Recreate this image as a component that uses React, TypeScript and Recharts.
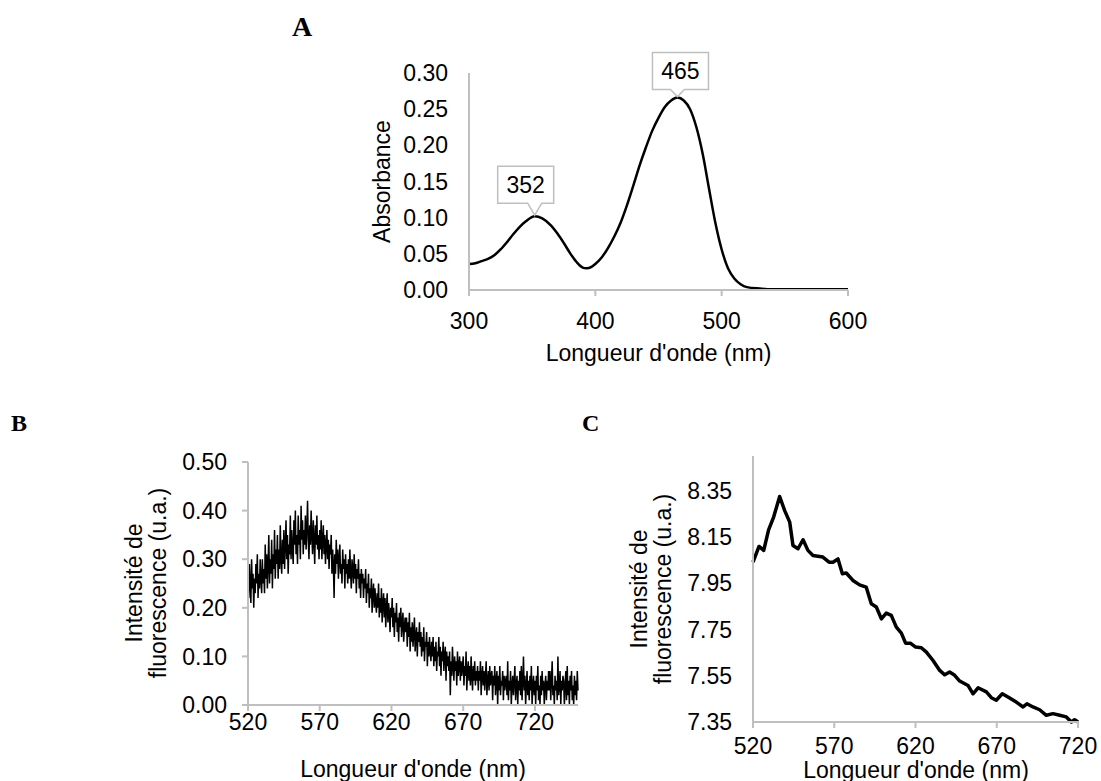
import { LineChart, Line, XAxis, YAxis, ReferenceDot } from 'recharts';

const FONT = "'Liberation Sans', Arial, sans-serif";
const SERIF = "'Liberation Serif', 'Times New Roman', serif";
const GREY = '#bfbfbf';

// A - absorbance spectrum
const absNm = [300, 305, 310, 315, 320, 325, 330, 335, 340, 345, 352, 358, 365, 370, 375, 380, 385, 390, 393, 397, 400, 405, 410, 415, 420, 425, 430, 435, 440, 445, 450, 455, 460, 465, 470, 475, 480, 485, 490, 495, 500, 505, 510, 515, 520, 530, 540, 560, 580, 600];
const absValues = [0.036, 0.037, 0.040, 0.043, 0.048, 0.056, 0.066, 0.077, 0.087, 0.095, 0.102, 0.099, 0.089, 0.078, 0.065, 0.051, 0.039, 0.031, 0.030, 0.032, 0.036, 0.045, 0.058, 0.074, 0.093, 0.117, 0.144, 0.172, 0.197, 0.220, 0.238, 0.253, 0.262, 0.266, 0.262, 0.250, 0.225, 0.188, 0.140, 0.093, 0.056, 0.030, 0.016, 0.008, 0.004, 0.002, 0.001, 0.001, 0.001, 0.001];
const absXTicks = [300, 400, 500, 600];
const absYTicks = [0, 0.05, 0.1, 0.15, 0.2, 0.25, 0.3];
const peakNm = [352, 465];
const peakText = ['352', '465'];

// B - raw fluorescence, one reading every 0.5 nm from 520 nm
const rawStartNm = 520;
const rawStepNm = 0.5;
const rawValues = [
  0.27, 0.22, 0.29, 0.25, 0.21, 0.30, 0.24, 0.27, 0.20, 0.26, 0.23, 0.29, 0.25, 0.31, 0.22, 0.27, 0.24, 0.30, 0.26, 0.23,
  0.30, 0.25, 0.28, 0.23, 0.33, 0.26, 0.31, 0.24, 0.29, 0.35, 0.25, 0.30, 0.27, 0.34, 0.24, 0.31, 0.28, 0.36, 0.26, 0.32,
  0.29, 0.35, 0.26, 0.32, 0.28, 0.37, 0.30, 0.27, 0.34, 0.29, 0.36, 0.28, 0.33, 0.38, 0.30, 0.35, 0.27, 0.33, 0.31, 0.39,
  0.30, 0.36, 0.32, 0.29, 0.38, 0.33, 0.40, 0.31, 0.35, 0.29, 0.39, 0.33, 0.36, 0.30, 0.41, 0.34, 0.38, 0.31, 0.36, 0.33,
  0.39, 0.32, 0.36, 0.42, 0.34, 0.30, 0.37, 0.33, 0.40, 0.35, 0.31, 0.38, 0.34, 0.29, 0.37, 0.33, 0.39, 0.32, 0.35, 0.30,
  0.36, 0.32, 0.38, 0.30, 0.34, 0.37, 0.31, 0.35, 0.29, 0.33, 0.36, 0.30, 0.34, 0.28, 0.33, 0.31, 0.35, 0.27, 0.32, 0.29,
  0.22, 0.31, 0.27, 0.34, 0.29, 0.32, 0.26, 0.30, 0.33, 0.27, 0.29, 0.25, 0.32, 0.28, 0.30, 0.24, 0.31, 0.27, 0.29, 0.25,
  0.30, 0.26, 0.32, 0.27, 0.24, 0.30, 0.28, 0.25, 0.31, 0.26, 0.29, 0.23, 0.28, 0.26, 0.30, 0.24, 0.27, 0.22, 0.28, 0.25,
  0.27, 0.22, 0.26, 0.24, 0.28, 0.21, 0.25, 0.23, 0.27, 0.20, 0.24, 0.22, 0.26, 0.19, 0.23, 0.25, 0.20, 0.24, 0.21, 0.19,
  0.23, 0.20, 0.25, 0.18, 0.22, 0.19, 0.24, 0.17, 0.21, 0.23, 0.18, 0.22, 0.16, 0.20, 0.23, 0.17, 0.21, 0.19, 0.15, 0.20,
  0.18, 0.22, 0.16, 0.20, 0.14, 0.19, 0.17, 0.21, 0.15, 0.18, 0.13, 0.19, 0.16, 0.20, 0.14, 0.17, 0.19, 0.13, 0.16, 0.18,
  0.15, 0.18, 0.12, 0.17, 0.14, 0.19, 0.11, 0.16, 0.13, 0.17, 0.12, 0.15, 0.18, 0.11, 0.14, 0.16, 0.10, 0.15, 0.13, 0.17,
  0.12, 0.15, 0.10, 0.14, 0.11, 0.16, 0.09, 0.13, 0.12, 0.15, 0.08, 0.13, 0.10, 0.14, 0.11, 0.09, 0.13, 0.10, 0.14, 0.08,
  0.12, 0.09, 0.13, 0.07, 0.11, 0.10, 0.14, 0.08, 0.12, 0.06, 0.11, 0.09, 0.13, 0.07, 0.10, 0.12, 0.05, 0.11, 0.08, 0.10,
  0.07, 0.11, 0.02, 0.09, 0.06, 0.12, 0.08, 0.05, 0.10, 0.07, 0.09, 0.04, 0.11, 0.06, 0.08, 0.10, 0.05, 0.09, 0.06, 0.08,
  0.10, 0.04, 0.08, 0.06, 0.11, 0.03, 0.07, 0.09, 0.05, 0.08, 0.04, 0.10, 0.06, 0.03, 0.08, 0.05, 0.09, 0.04, 0.07, 0.05,
  0.08, 0.03, 0.07, 0.05, 0.09, 0.02, 0.06, 0.08, 0.04, 0.07, 0.03, 0.06, 0.09, 0.02, 0.05, 0.07, 0.03, 0.08, 0.04, 0.06,
  0.07, 0.01, 0.06, 0.04, 0.08, 0.02, 0.05, 0.07, 0.00, 0.06, 0.03, 0.08, 0.02, 0.05, 0.04, 0.07, 0.01, 0.06, 0.03, 0.05,
  0.06, 0.02, 0.09, 0.01, 0.05, 0.03, 0.07, 0.00, 0.04, 0.06, 0.02, 0.05, 0.08, 0.01, 0.04, 0.06, 0.00, 0.05, 0.03, 0.07,
  0.02, 0.08, 0.01, 0.05, 0.10, 0.03, 0.06, 0.00, 0.04, 0.07, 0.02, 0.05, 0.01, 0.06, 0.03, 0.08, 0.00, 0.04, 0.06, 0.02,
  0.05, 0.00, 0.06, 0.03, 0.08, 0.01, 0.04, 0.00, 0.06, 0.02, 0.07, 0.03, 0.05, 0.00, 0.04, 0.06, 0.01, 0.05, 0.03, 0.07,
  0.03, 0.07, 0.01, 0.05, 0.09, 0.02, 0.04, 0.00, 0.06, 0.03, 0.05, 0.01, 0.10, 0.02, 0.04, 0.07, 0.00, 0.05, 0.03, 0.06,
  0.05, 0.00, 0.04, 0.07, 0.01, 0.08, 0.02, 0.05, 0.00, 0.06, 0.03, 0.07, 0.01, 0.04, 0.00, 0.06, 0.02, 0.05, 0.01, 0.07,
  0.03,
];
const rawXTicks = [520, 570, 620, 670, 720];
const rawYTicks = [0, 0.1, 0.2, 0.3, 0.4, 0.5];

// C - smoothed fluorescence
const smoothNm = [520, 523.7, 526.6, 529.6, 532.7, 536.4, 539.5, 542.6, 544.6, 547.7, 550.8, 553.8, 556.9, 563, 566.8, 569.2, 572.3, 575, 577.4, 581.5, 585.6, 589.7, 592.8, 595.9, 599, 602, 605.1, 608.2, 611.3, 613.9, 616.8, 620.1, 623.6, 626.7, 630.8, 634.9, 638, 641, 644.1, 647.2, 652.3, 655.4, 658.5, 663.6, 666.7, 669.7, 673.4, 676.9, 682, 686.2, 688.6, 692.3, 696.4, 700.5, 704.6, 708.7, 712.8, 715.9, 717.9, 720];
const smoothValues = [8.041, 8.109, 8.092, 8.181, 8.236, 8.325, 8.264, 8.214, 8.113, 8.099, 8.138, 8.092, 8.070, 8.063, 8.041, 8.041, 8.055, 7.991, 7.994, 7.962, 7.943, 7.933, 7.861, 7.847, 7.796, 7.821, 7.811, 7.760, 7.734, 7.691, 7.691, 7.674, 7.671, 7.652, 7.616, 7.573, 7.554, 7.566, 7.552, 7.527, 7.508, 7.472, 7.498, 7.480, 7.455, 7.444, 7.472, 7.458, 7.436, 7.415, 7.429, 7.415, 7.403, 7.379, 7.386, 7.379, 7.372, 7.350, 7.360, 7.350];
const smoothXTicks = [520, 570, 620, 670, 720];
const smoothYTicks = [7.35, 7.55, 7.75, 7.95, 8.15, 8.35];

const absData = absNm.map((x, i) => ({ x, y: absValues[i] }));
const rawData = rawValues.map((y, i) => ({ x: rawStartNm + i * rawStepNm, y }));
const smoothData = smoothNm.map((x, i) => ({ x, y: smoothValues[i] }));

const tickStyle = { fontSize: 23, fill: '#000', fontFamily: FONT };
const axisStyle = { stroke: GREY, strokeWidth: 2 };
const fmt2 = (v: number) => v.toFixed(2);

// callout box position relative to its peak: [shift x, gap above]
const calloutOffset = [[-9, 13], [3, 8]];

function Callout({ cx, cy, text, shift, gap }: any) {
  const w = 56;
  const h = 37;
  const bx = cx + shift - w / 2;
  const by = cy - gap - h;
  const d = `M${bx},${by} H${bx + w} V${by + h} H${cx + 7} L${cx},${cy - 1} L${cx - 7},${by + h} H${bx} Z`;
  return (
    <g>
      <path d={d} fill="#fff" stroke={GREY} strokeWidth={1.5} />
      <text x={bx + w / 2} y={by + h / 2 + 8} textAnchor="middle" fontSize={23} fontFamily={FONT} fill="#000">
        {text}
      </text>
    </g>
  );
}

function XTitle({ tx, ty }: any) {
  return (
    <text x={tx} y={ty} textAnchor="middle" fontSize={23} fontFamily={FONT} fill="#000">
      Longueur d'onde (nm)
    </text>
  );
}

function YTitle({ lines, xs, cy }: any) {
  return (
    <g>
      {lines.map((t: string, i: number) => (
        <text
          key={t}
          x={xs[i]}
          y={cy}
          transform={`rotate(-90 ${xs[i]} ${cy})`}
          textAnchor="middle"
          fontSize={23}
          fontFamily={FONT}
          fill="#000"
        >
          {t}
        </text>
      ))}
    </g>
  );
}

function AbsorbanceChart() {
  return (
    <LineChart width={560} height={340} data={absData} margin={{ top: 33, right: 42, left: 0, bottom: 30 }}>
      <XAxis
        type="number"
        dataKey="x"
        domain={[300, 600]}
        ticks={absXTicks}
        interval={0}
        height={60}
        tick={tickStyle}
        tickSize={6}
        tickMargin={17}
        tickLine={axisStyle}
        axisLine={axisStyle}
        label={<XTitle tx={328.5} ty={321} />}
      />
      <YAxis
        type="number"
        domain={[0, 0.3]}
        ticks={absYTicks}
        interval={0}
        width={139}
        tickFormatter={fmt2}
        tick={tickStyle}
        tickSize={6}
        tickMargin={15}
        tickLine={false}
        axisLine={axisStyle}
        label={<YTitle lines={['Absorbance']} xs={[60]} cy={141.5} />}
      />
      <Line
        type="monotone"
        dataKey="y"
        stroke="#000"
        strokeWidth={2.5}
        dot={false}
        activeDot={false}
        isAnimationActive={false}
      />
      {peakNm.map((nm, i) => (
        <ReferenceDot
          key={nm}
          x={nm}
          y={absValues[absNm.indexOf(nm)]}
          r={0}
          shape={(p: any) => (
            <Callout cx={p.cx} cy={p.cy} text={peakText[i]} shift={calloutOffset[i][0]} gap={calloutOffset[i][1]} />
          )}
        />
      ))}
    </LineChart>
  );
}

function RawFluoChart() {
  return (
    <LineChart width={500} height={341} data={rawData} margin={{ top: 22, right: 22, left: 0, bottom: 16 }}>
      <XAxis
        type="number"
        dataKey="x"
        domain={[520, 750]}
        ticks={rawXTicks}
        interval={0}
        height={60}
        tick={tickStyle}
        tickSize={6}
        tickMargin={3}
        tickLine={axisStyle}
        axisLine={axisStyle}
        label={<XTitle tx={313} ty={337} />}
      />
      <YAxis
        type="number"
        domain={[0, 0.5]}
        ticks={rawYTicks}
        interval={0}
        width={148}
        tickFormatter={fmt2}
        tick={tickStyle}
        tickSize={6}
        tickMargin={15}
        tickLine={axisStyle}
        axisLine={axisStyle}
        label={<YTitle lines={['Intensité de', 'fluorescence (u.a.)']} xs={[42, 66]} cy={143} />}
      />
      <Line
        type="linear"
        dataKey="y"
        stroke="#000"
        strokeWidth={1.5}
        dot={false}
        activeDot={false}
        isAnimationActive={false}
      />
    </LineChart>
  );
}

function SmoothFluoChart() {
  return (
    <LineChart width={501} height={341} data={smoothData} margin={{ top: 16, right: 23, left: 0, bottom: 14 }}>
      <XAxis
        type="number"
        dataKey="x"
        domain={[520, 720]}
        ticks={smoothXTicks}
        interval={0}
        height={45}
        tick={tickStyle}
        tickSize={6}
        tickMargin={10}
        tickLine={axisStyle}
        axisLine={axisStyle}
        label={<XTitle tx={316} ty={338} />}
      />
      <YAxis
        type="number"
        domain={[7.35, 8.5]}
        ticks={smoothYTicks}
        interval={0}
        width={153}
        tickFormatter={fmt2}
        tick={tickStyle}
        tickSize={6}
        tickMargin={15}
        tickLine={false}
        axisLine={axisStyle}
        label={<YTitle lines={['Intensité de', 'fluorescence (u.a.)']} xs={[47, 71]} cy={149} />}
      />
      <Line
        type="linear"
        dataKey="y"
        stroke="#000"
        strokeWidth={3.5}
        strokeLinejoin="round"
        dot={false}
        activeDot={false}
        isAnimationActive={false}
      />
    </LineChart>
  );
}

export default function App() {
  return (
    <div style={{ position: 'absolute', left: 0, top: 0, width: 1101, height: 781, background: '#fff', overflow: 'hidden' }}>
      <svg width={1101} height={781} style={{ position: 'absolute', left: 0, top: 0 }}>
        <g fontFamily={SERIF} fontWeight="bold" fill="#000">
          <text x={292} y={36} fontSize={28}>A</text>
          <text x={11} y={431} fontSize={24}>B</text>
          <text x={582} y={431} fontSize={24}>C</text>
        </g>
      </svg>
      <div style={{ position: 'absolute', left: 330, top: 40 }}>
        <AbsorbanceChart />
      </div>
      <div style={{ position: 'absolute', left: 100, top: 440 }}>
        <RawFluoChart />
      </div>
      <div style={{ position: 'absolute', left: 600, top: 440 }}>
        <SmoothFluoChart />
      </div>
    </div>
  );
}
